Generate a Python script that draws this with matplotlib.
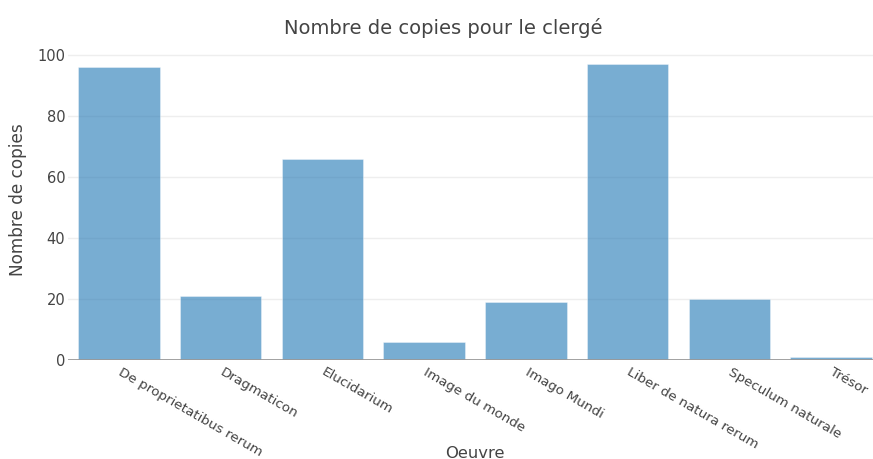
import matplotlib.pyplot as plt
import numpy as np

plt.rcParams['font.family'] = ['DejaVu Sans']

oeuvres = ["De proprietatibus rerum", "Dragmaticon", "Elucidarium", "Image du monde",
           "Imago Mundi", "Liber de natura rerum", "Speculum naturale", "Trésor"]
copies = [96, 21, 66, 6, 19, 97, 20, 1]

W, H = 873, 459
fig = plt.figure(figsize=(W / 100, H / 100), dpi=100)
# plot area in pixels: left 68, right ~882 (clipped), top 52, bottom 360
ax = fig.add_axes([68 / W, 1 - 360 / H, (882 - 68) / W, (360 - 52) / H])

x = np.arange(len(oeuvres))
ax.bar(x, copies, width=0.8, color=(31/255, 119/255, 180/255, 0.6),
       edgecolor=(1, 1, 1, 0.5), linewidth=0.5, zorder=3)

ax.set_xlim(-0.5, len(oeuvres) - 0.5)
ax.set_ylim(0, 101)
ax.set_yticks([0, 20, 40, 60, 80, 100])
ax.grid(axis='y', color='#eeeeee', linewidth=1, zorder=0)
ax.axhline(0, color='#999999', linewidth=2, zorder=4)

for s in ax.spines.values():
    s.set_visible(False)
ax.tick_params(axis='both', length=0, labelsize=9.7, labelcolor='#444444')
ax.tick_params(axis='y', pad=2, labelsize=10.5)
ax.set_xticks(x)
ax.set_xticklabels(oeuvres, rotation=-30, ha='left', va='center',
                   rotation_mode='anchor')
ax.tick_params(axis='x', pad=8)

fig.text(475 / W, 1 - 453 / H, "Oeuvre", ha='center', va='center',
         fontsize=11.8, color='#444444')
fig.text(18 / W, 1 - 200 / H, "Nombre de copies", ha='center', va='center',
         rotation=90, fontsize=12.2, color='#444444')
fig.text(443 / W, 1 - 28 / H, "Nombre de copies pour le clergé", ha='center',
         va='center', fontsize=14, color='#444444')

fig.savefig("out.png", dpi=100)
